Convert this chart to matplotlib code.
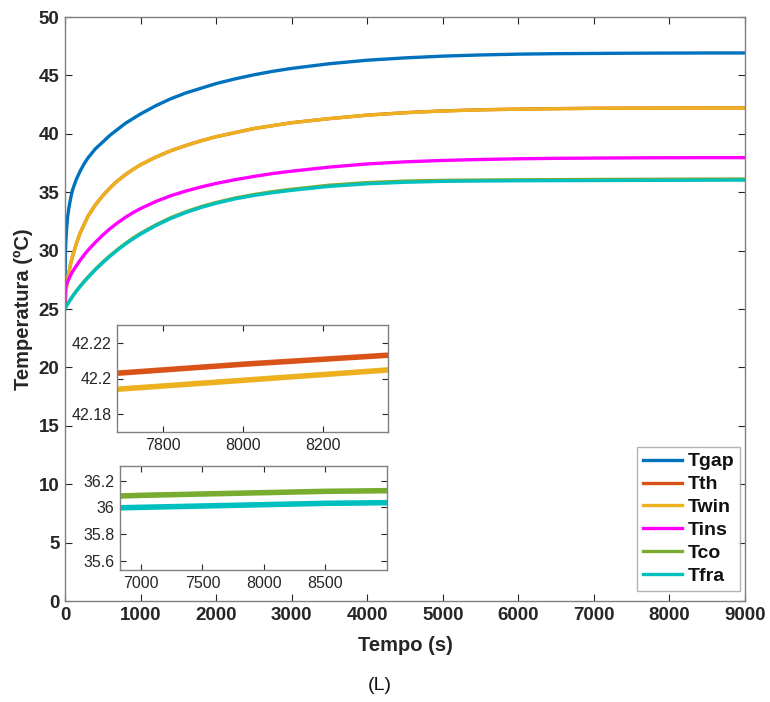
import matplotlib
matplotlib.use("Agg")
import matplotlib.pyplot as plt

plt.rcParams['font.family'] = ['Liberation Sans', 'DejaVu Sans']

# ---- data ----
time_s = [0, 2, 5, 10, 20, 35, 50, 75, 100, 150, 200, 250, 300, 400, 500, 600, 700,
          800, 900, 1000, 1200, 1400, 1600, 1800, 2000, 2250, 2500, 2750, 3000, 3500,
          4000, 4500, 5000, 5500, 6000, 6500, 7000, 7500, 8000, 8500, 9000]
Tgap = [25.0, 28.0, 29.6, 30.6, 31.8, 32.9, 33.6, 34.5, 35.2, 36.1, 36.8, 37.4, 37.9,
        38.7, 39.3, 39.9, 40.4, 40.9, 41.3, 41.7, 42.4, 43.0, 43.5, 43.9, 44.3, 44.7,
        45.05, 45.35, 45.6, 46.0, 46.3, 46.5, 46.65, 46.75, 46.82, 46.86, 46.88, 46.9,
        46.91, 46.92, 46.92]
Tth = [25.0, 25.4, 25.8, 26.3, 26.9, 27.6, 28.1, 28.9, 29.5, 30.6, 31.5, 32.2, 32.9,
       33.9, 34.7, 35.4, 36.0, 36.5, 36.95, 37.35, 38.0, 38.55, 39.0, 39.4, 39.75, 40.1,
       40.45, 40.7, 40.95, 41.3, 41.6, 41.81, 41.96, 42.06, 42.115, 42.155, 42.186,
       42.200, 42.208, 42.215, 42.222]
Twin = [25.0, 25.4, 25.8, 26.3, 26.9, 27.6, 28.1, 28.9, 29.5, 30.6, 31.5, 32.2, 32.9,
        33.9, 34.7, 35.4, 36.0, 36.5, 36.95, 37.35, 38.0, 38.55, 39.0, 39.4, 39.75, 40.1,
        40.45, 40.7, 40.95, 41.3, 41.6, 41.8, 41.95, 42.05, 42.105, 42.145, 42.177,
        42.191, 42.199, 42.207, 42.213]
Tins = [25.0, 26.3, 26.7, 26.9, 27.1, 27.35, 27.55, 27.9, 28.2, 28.7, 29.17, 29.6, 30.0,
        30.7, 31.33, 31.9, 32.4, 32.85, 33.25, 33.6, 34.2, 34.7, 35.1, 35.45, 35.75,
        36.07, 36.35, 36.6, 36.8, 37.15, 37.42, 37.6, 37.72, 37.8, 37.86, 37.9, 37.92,
        37.94, 37.95, 37.96, 37.96]
Tco = [25.0, 25.05, 25.1, 25.15, 25.3, 25.45, 25.6, 25.85, 26.1, 26.55, 26.95, 27.35,
       27.7, 28.4, 29.02, 29.6, 30.13, 30.62, 31.07, 31.48, 32.2, 32.82, 33.33, 33.76,
       34.12, 34.5, 34.8, 35.05, 35.25, 35.6, 35.82, 35.95, 36.01, 36.04, 36.06, 36.075,
       36.09, 36.1, 36.11, 36.12, 36.125]
Tfra = [25.0, 25.05, 25.1, 25.15, 25.29, 25.44, 25.58, 25.83, 26.08, 26.52, 26.92, 27.31,
        27.66, 28.35, 28.96, 29.54, 30.07, 30.56, 31.0, 31.41, 32.13, 32.75, 33.26,
        33.69, 34.05, 34.43, 34.72, 34.96, 35.16, 35.5, 35.72, 35.85, 35.93, 35.96,
        35.98, 35.99, 36.0, 36.01, 36.02, 36.03, 36.035]

labels = ['Tgap', 'Tth', 'Twin', 'Tins', 'Tco', 'Tfra']
colors = ['#0072BD', '#D95319', '#EDB120', '#FF00FF', '#77AC30', '#00BFBF']
series = [Tgap, Tth, Twin, Tins, Tco, Tfra]

xticks_main = [0, 1000, 2000, 3000, 4000, 5000, 6000, 7000, 8000, 9000]
yticks_main = [0, 5, 10, 15, 20, 25, 30, 35, 40, 45, 50]
in1_xticks = [7800, 8000, 8200]
in1_yticks = [42.18, 42.2, 42.22]
in1_yticklabels = ['42.18', '42.2', '42.22']
in2_xticks = [7000, 7500, 8000, 8500]
in2_yticks = [35.6, 35.8, 36.0, 36.2]
in2_yticklabels = ['35.6', '35.8', '36', '36.2']

AX = '#262626'
FRAME = '#808080'

fig = plt.figure(figsize=(7.7, 7.02), dpi=100)
W, H = 770, 702

def fax(l, t, r, b):
    return fig.add_axes([l / W, (H - b) / H, (r - l) / W, (b - t) / H])

ax = fax(65, 17, 745, 601)
for s, c, lab in zip(series, colors, labels):
    ax.plot(time_s, s, color=c, lw=2.4, label=lab, solid_joinstyle='round')
ax.set_xlim(0, 9000)
ax.set_ylim(0, 50)
ax.set_xticks(xticks_main)
ax.set_yticks(yticks_main)
ax.tick_params(direction='in', top=True, right=True, length=5, width=0.8,
               colors=AX, labelsize=13.5, pad=4)
for lbl in ax.get_xticklabels() + ax.get_yticklabels():
    lbl.set_fontweight('bold')
for sp in ax.spines.values():
    sp.set_color(FRAME)
    sp.set_linewidth(1.0)
ax.set_xlabel('Tempo (s)', fontsize=14.5, fontweight='bold', color=AX, labelpad=9)
ax.set_ylabel('Temperatura (ºC)', fontsize=14.5, fontweight='bold', color=AX, labelpad=4)

leg = ax.legend(loc='upper left', bbox_to_anchor=(637 / W, (H - 447) / H),
                bbox_transform=fig.transFigure, prop={'weight': 'bold', 'size': 14},
                handlelength=2.0, handletextpad=0.3, labelspacing=0.27, borderpad=0.3,
                borderaxespad=0, fancybox=False, frameon=True)
leg.get_frame().set_edgecolor('#A0A0A0')
leg.get_frame().set_linewidth(1.0)
for t in leg.get_texts():
    t.set_color('#111111')

# inset 1: Tth / Twin
a1 = fax(117, 325, 388, 432)
a1.plot(time_s, Tth, color=colors[1], lw=4.0)
a1.plot(time_s, Twin, color=colors[2], lw=4.0)
a1.set_xlim(7685, 8362)
a1.set_ylim(42.170, 42.230)
a1.set_xticks(in1_xticks)
a1.set_yticks(in1_yticks)
a1.set_yticklabels(in1_yticklabels)

# inset 2: Tco / Tfra
a2 = fax(120, 466, 387, 570)
a2.plot(time_s, Tco, color=colors[4], lw=4.0)
a2.plot(time_s, Tfra, color=colors[5], lw=4.0)
a2.set_xlim(6830, 9000)
a2.set_ylim(35.53, 36.31)
a2.set_xticks(in2_xticks)
a2.set_yticks(in2_yticks)
a2.set_yticklabels(in2_yticklabels)

for a in (a1, a2):
    a.tick_params(direction='in', top=True, right=True, length=4, width=0.8,
                  colors=AX, labelsize=11.5, pad=4)
    for sp in a.spines.values():
        sp.set_color(FRAME)
        sp.set_linewidth(1.0)
    a.set_facecolor('white')

fig.text(380 / W, 1 - 686 / H, '(L)', ha='center', va='center', fontsize=14, color='#111111')

fig.savefig('out.png', dpi=100, facecolor='white')
